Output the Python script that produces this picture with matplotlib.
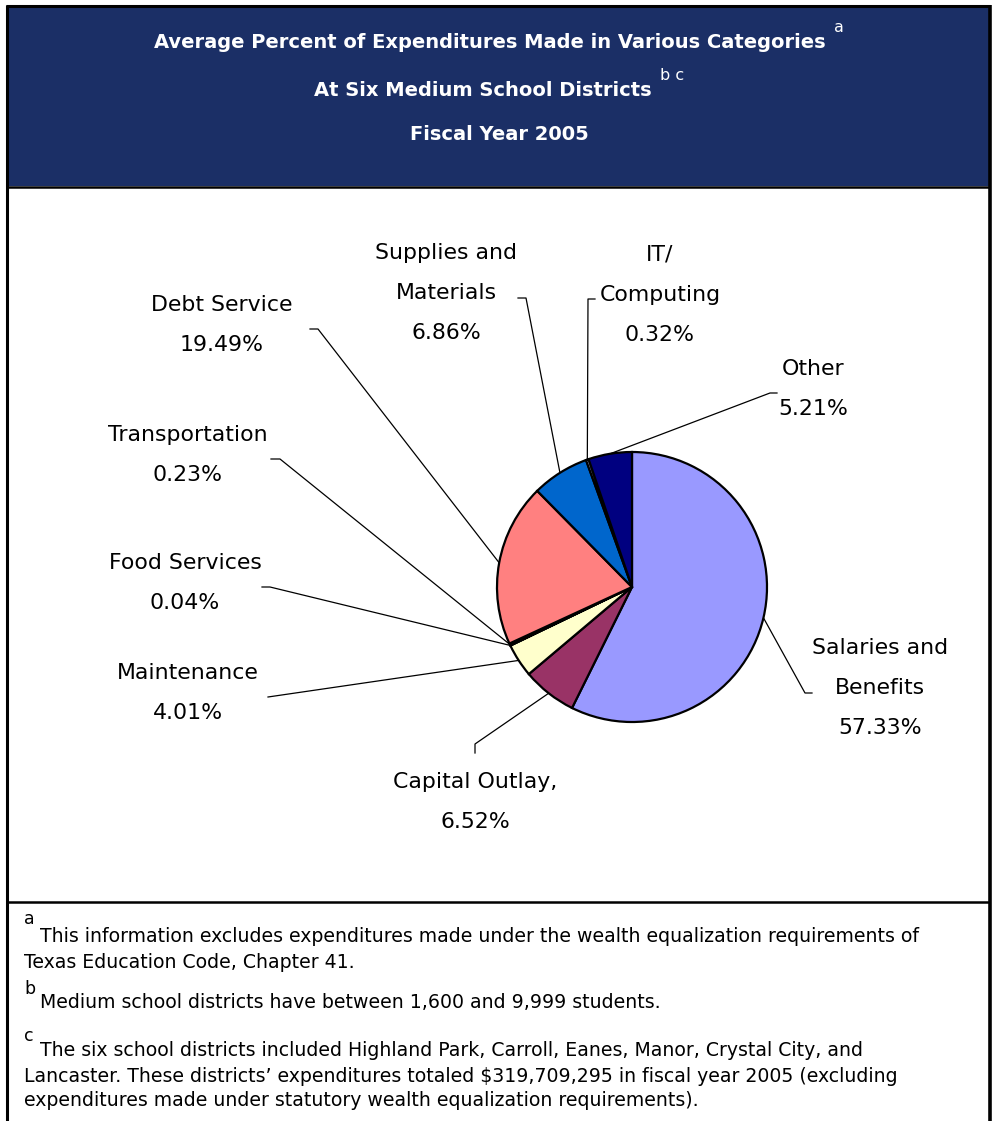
import numpy as np
import matplotlib
matplotlib.use("Agg")
import matplotlib.pyplot as plt

# Expenditure categories, in clockwise order starting at 12 o'clock
categories = ["Salaries and\nBenefits", "Capital Outlay,", "Maintenance", "Food Services",
              "Transportation", "Debt Service", "Supplies and\nMaterials", "IT/\nComputing", "Other"]
percents = [57.33, 6.52, 4.01, 0.04, 0.23, 19.49, 6.86, 0.32, 5.21]
colors = ["#9999FF", "#993366", "#FFFFCC", "#CCFFFF", "#660066",
          "#FF8080", "#0066CC", "#CCCCFF", "#000080"]

title_lines = ["Average Percent of Expenditures Made in Various Categories",
               "At Six Medium School Districts",
               "Fiscal Year 2005"]
title_marks = ["a", "b c", ""]

footnotes = [
    ("a", ["This information excludes expenditures made under the wealth equalization requirements of",
           "Texas Education Code, Chapter 41."]),
    ("b", ["Medium school districts have between 1,600 and 9,999 students."]),
    ("c", ["The six school districts included Highland Park, Carroll, Eanes, Manor, Crystal City, and",
           "Lancaster. These districts\u2019 expenditures totaled $319,709,295 in fiscal year 2005 (excluding",
           "expenditures made under statutory wealth equalization requirements)."]),
]

W, H = 992, 1121
NAVY = "#1B2F66"
FONT = "DejaVu Sans"

fig = plt.figure(figsize=(W / 100, H / 100), dpi=100)
ax = fig.add_axes([0, 0, 1, 1])
ax.set_xlim(0, W)
ax.set_ylim(H, 0)
ax.axis("off")
ax.set_zorder(0)

# Frame, title band and section rules
ax.add_patch(plt.Rectangle((7, 6), 982, 180, facecolor=NAVY, edgecolor="none", zorder=1))
ax.plot([6, 990], [5.5, 5.5], color="black", lw=2.2, zorder=3, solid_capstyle="butt")
ax.plot([6.5, 6.5], [5, H], color="black", lw=2.2, zorder=3, solid_capstyle="butt")
ax.plot([990, 990], [5, H], color="black", lw=2.6, zorder=3, solid_capstyle="butt")
ax.plot([6, 990], [186.5, 186.5], color="black", lw=1.8, zorder=3, solid_capstyle="butt")
ax.plot([6, 990], [902, 902], color="black", lw=1.8, zorder=3, solid_capstyle="butt")

# Title text with superscript note markers
title_y = [42, 90, 134]
title_size = 14.0
mark_size = 11.5
fig.canvas.draw()
for line, mark, y in zip(title_lines, title_marks, title_y):
    t = ax.text(0, 0, line, fontsize=title_size, color="white", family=FONT,
                fontweight="bold", ha="left", va="center")
    wline = t.get_window_extent(renderer=fig.canvas.get_renderer()).width
    wmark = 0
    if mark:
        tm = ax.text(0, 0, mark, fontsize=mark_size, color="white", family=FONT,
                     ha="left", va="center")
        wmark = tm.get_window_extent(renderer=fig.canvas.get_renderer()).width + 9
        tm.remove()
    x0 = 499 - (wline + wmark) / 2
    t.set_position((x0, y))
    if mark:
        ax.text(x0 + wline + 9, y - 14, mark, fontsize=mark_size, color="white",
                family=FONT, ha="left", va="center")

# Pie geometry in pixel space
cx, cy, R = 632, 587, 135
pie_ax = fig.add_axes([(cx - R) / W, (H - cy - R) / H, 2 * R / W, 2 * R / H])
pie_ax.set_zorder(2)
pie_ax.patch.set_alpha(0)
wedges, _ = pie_ax.pie(percents, colors=colors, startangle=90, counterclock=False,
                       radius=1.0, wedgeprops=dict(edgecolor="black", linewidth=1.6))
for w in wedges:
    w.set_clip_on(False)
pie_ax.set_xlim(-1.0, 1.0)
pie_ax.set_ylim(-1.0, 1.0)
pie_ax.set_aspect("equal")
Rpx = R

# Label placement: text centre x, first-line y, and leader elbow points
label_x = [880, 475, 188, 185, 188, 222, 446, 660, 813]
label_y = [648, 782, 673, 563, 435, 305, 253, 255, 369]
elbows = [
    [(812, 693), (805, 693)],
    [(475, 753), (475, 744)],
    [(268, 697)],
    [(262, 587), (270, 587)],
    [(271, 459), (280, 459)],
    [(310, 329), (318, 329)],
    [(518, 298), (526, 298)],
    [(595, 299), (588, 299)],
    [(777, 393), (770, 393)],
]

LS = 40
label_size = 15.8
for w, name, pct, lx, ly, elb in zip(wedges, categories, percents, label_x, label_y, elbows):
    lines = name.split("\n") + [f"{pct:.2f}%"]
    for i, s in enumerate(lines):
        ax.text(lx, ly + i * LS, s, fontsize=label_size, family=FONT, color="black",
                ha="center", va="center")
    theta = np.deg2rad((w.theta1 + w.theta2) / 2)
    ex = cx + Rpx * np.cos(theta)
    ey = cy - Rpx * np.sin(theta)
    pts = elb + [(ex, ey)]
    ax.plot([p[0] for p in pts], [p[1] for p in pts], color="black", lw=0.9, zorder=2)

# Footnotes
fn_size = 13.6
mark_x, text_x = 24, 40
fn_rows = [[(919, 936), (962,)], [(989, 1003)], [(1036, 1051), (1077,), (1100,)]]
for (mark, lines), rows in zip(footnotes, fn_rows):
    ax.text(mark_x, rows[0][0], mark, fontsize=12.5, family=FONT, color="black",
            ha="left", va="center")
    for j, (s, r) in enumerate(zip(lines, rows)):
        y = r[1] if j == 0 else r[0]
        x = text_x if j == 0 else mark_x
        ax.text(x, y, s, fontsize=fn_size, family=FONT, color="black",
                ha="left", va="center")

fig.savefig("out.png", dpi=100)
